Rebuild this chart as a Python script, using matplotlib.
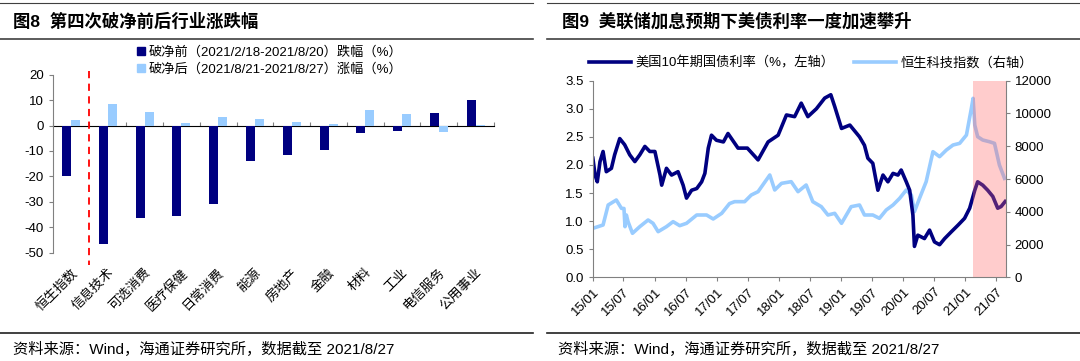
import numpy as np
import pandas as pd
import matplotlib
matplotlib.use('Agg')
import matplotlib.pyplot as plt
import matplotlib.dates as mdates
from matplotlib.patches import Patch
from matplotlib.lines import Line2D

plt.rcParams['font.family'] = ['Liberation Sans', 'Noto Sans CJK SC']
plt.rcParams['axes.unicode_minus'] = False

# ---- 图8 数据 ----
industries = ['恒生指数', '信息技术', '可选消费', '医疗保健', '日常消费', '能源',
              '房地产', '金融', '材料', '工业', '电信服务', '公用事业']
before_chg = [-20.0, -46.5, -36.4, -35.7, -30.8, -14.0, -11.6, -9.6, -2.9, -2.3, 4.8, 9.9]
after_chg = [2.2, 8.3, 5.3, 0.9, 3.3, 2.6, 1.4, 0.5, 6.2, 4.4, -2.4, 0.4]
before_label = '破净前（2021/2/18-2021/8/20）跌幅（%）'
after_label = '破净后（2021/8/21-2021/8/27）涨幅（%）'

# ---- 图9 数据 ----
ust_dates = ['2015-01-02', '2015-01-15', '2015-01-28', '2015-02-13', '2015-03-03', '2015-03-22',
             '2015-04-21', '2015-05-10', '2015-06-09', '2015-07-08', '2015-08-07', '2015-09-06',
             '2015-10-05', '2015-11-04', '2015-12-03', '2016-01-02', '2016-02-01', '2016-02-11',
             '2016-03-10', '2016-04-09', '2016-05-17', '2016-06-16', '2016-07-06', '2016-08-05',
             '2016-09-04', '2016-10-03', '2016-10-22', '2016-11-11', '2016-11-30', '2016-12-29',
             '2017-02-08', '2017-03-07', '2017-05-05', '2017-06-29', '2017-08-31', '2017-10-29',
             '2017-12-27', '2018-02-14', '2018-04-03', '2018-05-12', '2018-06-20', '2018-08-09',
             '2018-09-27', '2018-11-02', '2018-11-25', '2019-01-04', '2019-02-22', '2019-04-20',
             '2019-05-19', '2019-06-08', '2019-07-07', '2019-08-06', '2019-09-05', '2019-10-04',
             '2019-11-03', '2019-12-02', '2019-12-21', '2020-01-20', '2020-02-09', '2020-02-28',
             '2020-03-08', '2020-03-28', '2020-05-06', '2020-06-05', '2020-07-04', '2020-08-03',
             '2020-09-02', '2020-10-11', '2020-11-20', '2020-12-28', '2021-01-27', '2021-02-26',
             '2021-03-15', '2021-04-14', '2021-05-13', '2021-06-12', '2021-07-11', '2021-07-31',
             '2021-08-24']
ust_10y = [2.12, 1.82, 1.70, 2.06, 2.24, 1.88, 1.94, 2.18, 2.47, 2.36, 2.18, 2.06,
           2.18, 2.33, 2.24, 2.24, 1.82, 1.64, 1.94, 1.82, 1.88, 1.64, 1.41, 1.55,
           1.58, 1.70, 1.85, 2.30, 2.53, 2.44, 2.41, 2.56, 2.30, 2.30, 2.09, 2.41,
           2.53, 2.89, 2.86, 3.10, 2.86, 3.00, 3.19, 3.25, 3.04, 2.65, 2.71, 2.50,
           2.35, 2.12, 2.03, 1.55, 1.82, 1.70, 1.85, 1.82, 1.91, 1.70, 1.55, 1.11,
           0.55, 0.75, 0.69, 0.84, 0.63, 0.58, 0.69, 0.81, 0.93, 1.05, 1.23, 1.55,
           1.70, 1.64, 1.55, 1.44, 1.23, 1.26, 1.35]

hstech_dates = ['2015-01-02', '2015-03-03', '2015-04-02', '2015-05-20', '2015-06-19', '2015-07-04',
                '2015-07-10', '2015-07-18', '2015-07-28', '2015-08-23', '2015-10-05', '2015-11-23',
                '2015-12-22', '2016-01-21', '2016-03-10', '2016-04-18', '2016-05-27', '2016-07-06',
                '2016-09-04', '2016-11-01', '2016-12-10', '2017-01-29', '2017-03-16', '2017-04-15',
                '2017-06-13', '2017-07-22', '2017-08-31', '2017-11-08', '2017-12-07', '2018-01-16',
                '2018-03-14', '2018-04-23', '2018-06-10', '2018-07-19', '2018-09-07', '2018-10-16',
                '2018-11-25', '2019-01-04', '2019-03-02', '2019-04-20', '2019-05-19', '2019-07-07',
                '2019-08-15', '2019-09-24', '2019-11-03', '2019-12-12', '2020-01-20', '2020-02-19',
                '2020-03-08', '2020-04-07', '2020-05-16', '2020-06-25', '2020-08-03', '2020-09-12',
                '2020-10-21', '2020-11-29', '2021-01-08', '2021-02-06', '2021-02-16', '2021-02-26',
                '2021-03-15', '2021-04-14', '2021-05-23', '2021-06-22', '2021-07-21', '2021-08-20']
hstech = [2990, 3193, 4413, 4718, 4210, 4200, 3091, 3803, 3396, 2685, 3091, 3498,
          3295, 2786, 3091, 3396, 3152, 3295, 3803, 3803, 3559, 3905, 4500, 4617,
          4617, 5023, 5227, 6244, 5329, 5735, 5837, 5227, 5634, 4617, 4312, 3803,
          3905, 3295, 4312, 4413, 3803, 3803, 3600, 4108, 4413, 4820, 5329, 5023,
          4006, 4820, 5837, 7667, 7362, 7769, 8074, 8176, 8684, 10311, 10921, 9294,
          8583, 8379, 8277, 8176, 6854, 6040]

shade_start, shade_end = '2021-02-18', '2021-08-27'

navy = '#000080'
light = '#99CCFF'
gray = '#808080'

W, H = 1080, 361
fig = plt.figure(figsize=(W / 100, H / 100), dpi=100)


def fx(px):
    return px / W


def fy(py):
    return 1 - py / H


# 顶部/底部分隔线与标题
for x0, x1 in [(0, 533), (547, 1080)]:
    fig.add_artist(Line2D([fx(x0), fx(x1)], [fy(3), fy(3)], color='#404040', lw=0.8))
    fig.add_artist(Line2D([fx(x0), fx(x1)], [fy(39), fy(39)], color='#404040', lw=1.2))
    fig.add_artist(Line2D([fx(x0), fx(x1)], [fy(333), fy(333)], color='#202020', lw=1.2))

fig.text(fx(13), fy(21), '图8  第四次破净前后行业涨跌幅', fontsize=12.5, fontweight='bold', va='center')
fig.text(fx(562), fy(21), '图9  美联储加息预期下美债利率一度加速攀升', fontsize=12.5, fontweight='bold', va='center')
src = '资料来源：Wind，海通证券研究所，数据截至 2021/8/27'
fig.text(fx(13), fy(349), src, fontsize=11, va='center')
fig.text(fx(558), fy(349), src, fontsize=11, va='center')

# ---- 图8 ----
ax = fig.add_axes([fx(52.7), fy(252.7), fx(494 - 52.7), fy(74.7) - fy(252.7)])
x = np.arange(len(industries))
bw = 0.245
ax.bar(x - bw / 2, before_chg, bw, color=navy, label=before_label)
ax.bar(x + bw / 2, after_chg, bw, color=light, label=after_label)
ymin, ymax = -50, 20
ax.set_ylim(ymin, ymax)
ax.set_xlim(-0.5, len(industries) - 0.5)
ax.set_yticks(np.arange(-50, 21, 10))
ax.tick_params(axis='y', labelsize=9.5, direction='out', length=3, color=gray)
for s in ['top', 'right', 'bottom']:
    ax.spines[s].set_visible(False)
ax.spines['left'].set_color(gray)
ax.set_xticks(x)
ax.set_xticklabels(industries, rotation=45, ha='right', rotation_mode='anchor', fontsize=9.5)
ax.tick_params(axis='x', length=0, pad=10)

zero_ax = ax.secondary_xaxis((0 - ymin) / (ymax - ymin))
zero_ax.set_xticks(np.arange(-0.5, len(industries), 1.0))
zero_ax.set_xticklabels([])
zero_ax.tick_params(direction='out', length=3, color=gray)
zero_ax.spines['bottom'].set_color(gray)

divider_x = 0.5
ax.plot([divider_x, divider_x], [21.5, -55], color='#FF0000', ls=(0, (4, 3)), lw=1.3, clip_on=False)

ax.legend(handles=[Patch(color=navy, label=before_label), Patch(color=light, label=after_label)],
          loc='upper left', bbox_to_anchor=(fx(137), fy(46)), bbox_transform=fig.transFigure,
          frameon=False, fontsize=9.5, handlelength=0.6, handleheight=0.6, handletextpad=0.3,
          labelspacing=0.35, borderpad=0, borderaxespad=0)

# ---- 图9 ----
ax1 = fig.add_axes([fx(592.7), fy(277.3), fx(1005.7 - 592.7), fy(80.7) - fy(277.3)])
ax2 = ax1.twinx()
ax1.set_zorder(ax2.get_zorder() + 1)
ax1.patch.set_visible(False)

d_ust = pd.to_datetime(ust_dates)
d_hs = pd.to_datetime(hstech_dates)
l1, = ax1.plot(d_ust, ust_10y, color=navy, lw=2.6, label='美国10年期国债利率（%，左轴）')
l2, = ax2.plot(d_hs, hstech, color=light, lw=2.6, label='恒生科技指数（右轴）')
ax1.axvspan(pd.Timestamp(shade_start), pd.Timestamp(shade_end), color='#FF6666', alpha=0.33, lw=0, zorder=5)

ax1.set_xlim(pd.Timestamp('2015-01-01'), pd.Timestamp(shade_end))
ax1.set_ylim(0, 3.5)
ax1.set_yticks(np.arange(0, 3.51, 0.5))
ax1.yaxis.set_major_formatter(matplotlib.ticker.FormatStrFormatter('%.1f'))
ax2.set_ylim(0, 12000)
ax2.set_yticks(np.arange(0, 12001, 2000))

xt = pd.date_range('2015-01-01', '2021-07-01', freq='6MS')
ax1.set_xticks(xt)
ax1.xaxis.set_major_formatter(mdates.DateFormatter('%y/%m'))
for lab in ax1.get_xticklabels():
    lab.set_rotation(45)
    lab.set_ha('right')
    lab.set_rotation_mode('anchor')
ax1.tick_params(axis='x', labelsize=9.5, direction='out', length=3, color=gray, pad=3)
ax1.tick_params(axis='y', labelsize=9.5, direction='out', length=3, color=gray)
ax2.tick_params(axis='y', labelsize=9.5, direction='out', length=3, color=gray)
for a in (ax1, ax2):
    a.spines['top'].set_visible(False)
    for s in ['left', 'right', 'bottom']:
        a.spines[s].set_color(gray)
ax1.spines['right'].set_visible(False)
ax2.spines['left'].set_visible(False)
ax2.spines['bottom'].set_visible(False)

ax1.legend(handles=[l1, l2], loc='center', bbox_to_anchor=(fx(811), fy(63)), bbox_transform=fig.transFigure,
           ncol=2, frameon=False, fontsize=9.5, handlelength=3.2, handletextpad=0.3, columnspacing=1.5,
           borderpad=0)

fig.savefig('out.png', dpi=100)
